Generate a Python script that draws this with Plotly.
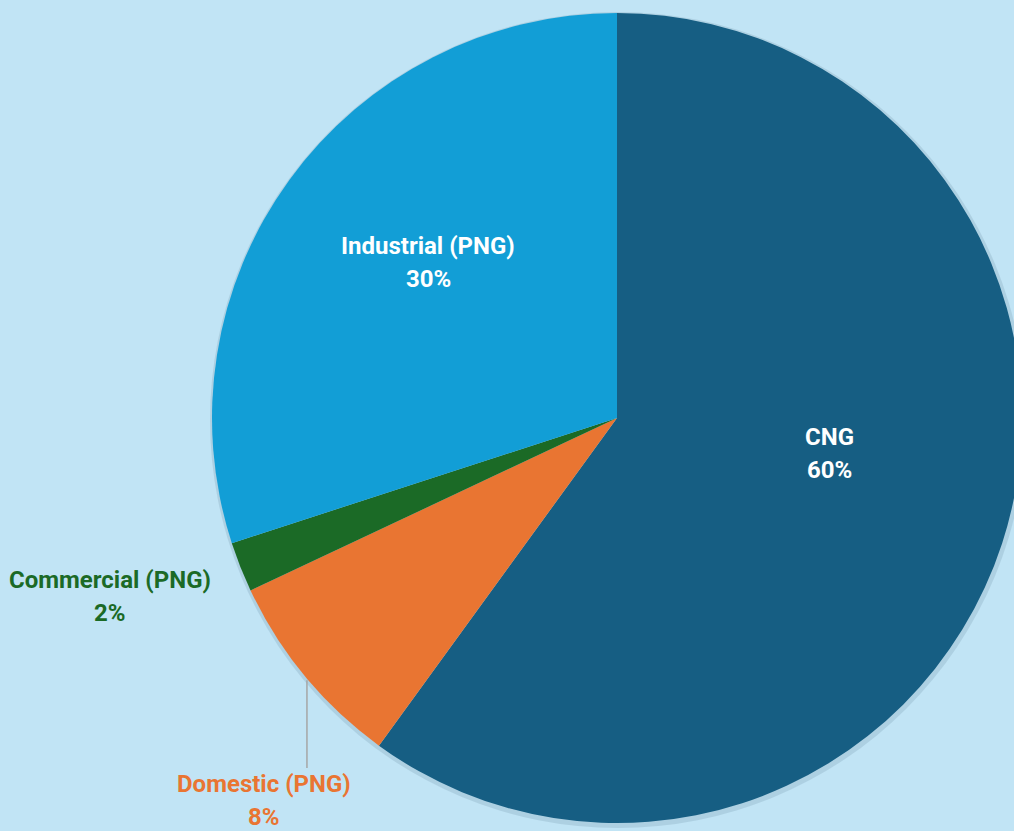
import math
import plotly.graph_objects as go

categories = ["CNG", "Domestic (PNG)", "Commercial (PNG)", "Industrial (PNG)"]
values = [60, 8, 2, 30]
colors = ["#165E83", "#E97532", "#1B6A26", "#129ED6"]
text_colors = ["white", "#E97532", "#1B6A26", "white"]
# label placement (pixel centres of the first text line)
label_pos = {
    "CNG": (829, 437),
    "Domestic (PNG)": (264, 784),
    "Commercial (PNG)": (110, 580),
    "Industrial (PNG)": (428, 246),
}
LINE_GAP = 33

W, H = 1030, 831
R = 405
cx, cy = 617, 418

def dom(r, dx=0, dy=0):
    return dict(x=[(cx + dx - r) / W, (cx + dx + r) / W],
                y=[(H - cy - dy - r) / H, (H - cy - dy + r) / H])

fig = go.Figure()
# soft shadow halo
fig.add_trace(go.Pie(
    values=[1], labels=["shadow"], sort=False,
    marker=dict(colors=["rgba(60,90,110,0.14)"], line=dict(width=0)),
    textinfo="none", hoverinfo="skip", showlegend=False,
    domain=dom(R + 3, 1, 2),
))
fig.add_trace(go.Pie(
    labels=categories,
    values=values,
    sort=False,
    direction="clockwise",
    rotation=0,
    marker=dict(colors=colors, line=dict(width=0)),
    textinfo="none",
    automargin=False,
    showlegend=False,
    hoverinfo="skip",
    domain=dom(R),
))

total = sum(values)
cum = 0
for cat, v, tc in zip(categories, values, text_colors):
    mid = (cum + v / 2) / total * 2 * math.pi
    cum += v
    px, py = label_pos[cat]
    pct = f"{round(100 * v / total)}%"
    for i, t in enumerate([cat, pct]):
        fig.add_annotation(
            x=px / W, y=1 - (py + i * LINE_GAP) / H, xref="paper", yref="paper",
            text=f"<b>{t}</b>", showarrow=False, xanchor="center", yanchor="middle",
            font=dict(family="Roboto", size=24, color=tc),
        )
    if cat == "Domestic (PNG)":
        ex = cx + R * math.sin(mid)
        ey = cy - R * math.cos(mid)
        fig.add_shape(
            type="line", xref="paper", yref="paper",
            x0=(ex + 2) / W, y0=1 - (ey + 4) / H,
            x1=(ex + 2) / W, y1=1 - (py - 16) / H,
            line=dict(color="#A6A6A6", width=1.5),
        )

fig.update_layout(
    width=W, height=H,
    margin=dict(l=0, r=0, t=0, b=0),
    paper_bgcolor="#C1E4F5",
    plot_bgcolor="#C1E4F5",
)

fig.write_html(
    "out.html",
    config={"displayModeBar": False},
    post_script="document.body.style.margin='0';document.body.style.overflow='hidden';document.documentElement.style.overflow='hidden';",
)
